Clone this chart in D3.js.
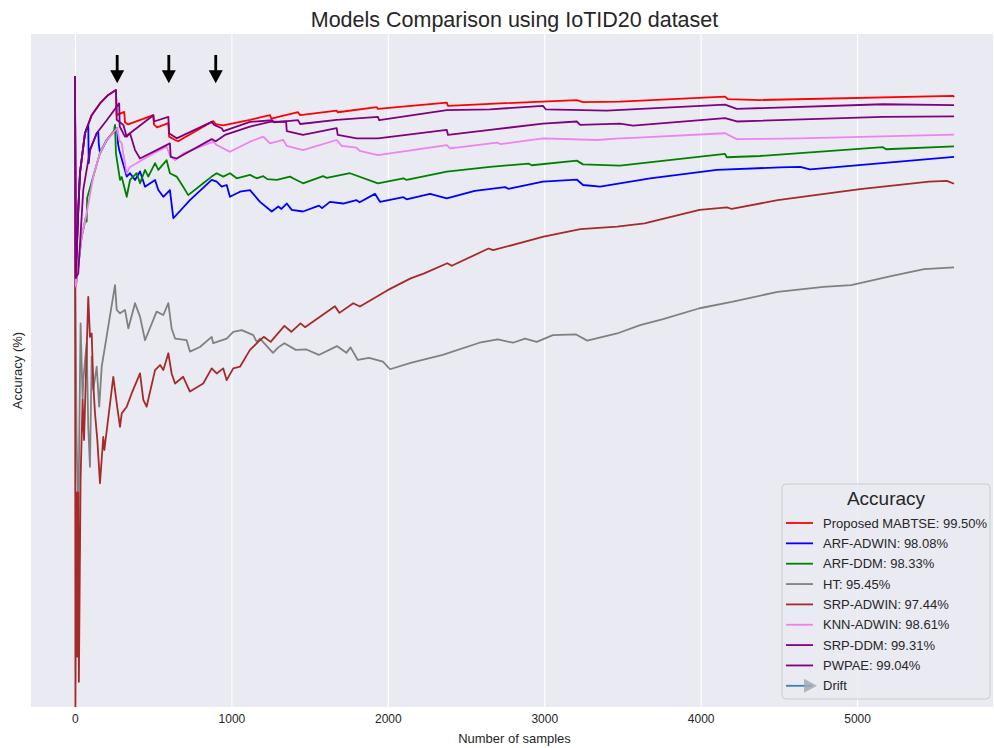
<!DOCTYPE html>
<html>
<head>
<meta charset="utf-8">
<script src="https://cdn.jsdelivr.net/npm/d3@7"></script>
<style>
  body { margin: 0; background: #ffffff; }
  text { font-family: "Liberation Sans", Arial, sans-serif; fill: #262626; }
</style>
</head>
<body>
<div id="chart"></div>
<script>
// data: [number of samples, accuracy %]
const proposed = [[0,100],[5,95.2],[21,96.8],[32,97.69],[64,98.64],[107,99.07],[160,99.35],[213,99.55],[262,99.67],[267,99.07],[315,99.15],[320,98.90],[340,98.85],[501,99.07],[505,98.85],[525,98.78],[597,98.88],[602,98.56],[640,98.48],[660,98.45],[692,98.52],[874,98.91],[884,98.93],[900,98.86],[948,98.83],[1119,98.96],[1247,99.07],[1255,98.99],[1426,99.14],[1440,99.07],[1673,99.18],[1680,99.14],[1929,99.26],[1937,99.22],[2377,99.37],[2385,99.29],[2654,99.34],[3208,99.43],[3248,99.38],[3484,99.39],[4156,99.51],[4175,99.45],[4380,99.43],[5614,99.53],[5620,99.50]];
const arfAdwin = [[0,100],[5,95.2],[21,96.8],[32,97.69],[64,98.64],[85,98.84],[88,97.93],[96,98.24],[139,98.64],[149,98.67],[152,98.40],[160,98.17],[203,98.48],[270,98.76],[275,98.40],[283,98.24],[331,97.61],[352,97.69],[384,97.53],[416,97.73],[448,97.37],[512,97.53],[533,97.29],[565,97.13],[607,97.29],[629,96.62],[735,97.05],[874,97.53],[906,97.49],[938,97.37],[970,97.41],[991,97.13],[1055,97.25],[1119,97.29],[1183,97.01],[1258,96.78],[1300,96.90],[1320,96.84],[1354,96.97],[1386,96.82],[1458,96.78],[1560,96.92],[1580,96.86],[1630,97.01],[1714,96.97],[1800,97.05],[1820,97.00],[1918,97.20],[1950,97.01],[2100,97.12],[2120,97.07],[2270,97.20],[2377,97.09],[2556,97.27],[2750,97.36],[2770,97.32],[2992,97.49],[3208,97.54],[3248,97.41],[3357,97.37],[3677,97.57],[4103,97.77],[4508,97.83],[4636,97.84],[4700,97.78],[5620,98.08]];
const arfDdm = [[0,100],[6,95.0],[43,96.18],[70,96.65],[75,96.54],[78,97.1],[117,97.61],[160,98.17],[203,98.48],[250,98.70],[256,98.84],[262,98.16],[288,97.53],[299,97.60],[331,97.13],[352,97.53],[395,97.69],[416,97.45],[448,97.77],[469,97.61],[512,97.93],[533,97.77],[586,98.00],[607,97.69],[650,97.61],[692,97.37],[724,97.17],[820,97.45],[874,97.61],[906,97.69],[948,97.61],[991,97.69],[1034,97.57],[1119,97.65],[1162,97.57],[1204,97.62],[1230,97.55],[1290,97.53],[1375,97.61],[1400,97.56],[1458,97.45],[1586,97.62],[1610,97.58],[1758,97.69],[1937,97.45],[2100,97.57],[2120,97.53],[2377,97.73],[2654,97.84],[2900,97.92],[2920,97.88],[3208,97.99],[3248,97.90],[3484,97.87],[4156,98.15],[4167,98.07],[4380,98.10],[5166,98.31],[5185,98.26],[5620,98.33]];
const ht = [[3,95.03],[10,91.5],[21,89.3],[36,94.12],[49,92.30],[53,92.77],[75,93.65],[85,91.66],[96,90.71],[107,93.33],[117,92.54],[139,93.09],[155,92.14],[171,93.09],[256,95.03],[267,94.44],[288,94.36],[320,94.44],[341,94.00],[384,94.60],[416,94.28],[448,93.72],[522,94.40],[565,94.32],[597,94.60],[618,94.00],[640,93.76],[714,93.72],[735,93.45],[799,93.56],[874,93.80],[884,93.65],[970,93.76],[1012,93.92],[1066,93.96],[1140,93.84],[1162,93.68],[1183,93.76],[1266,93.42],[1300,93.55],[1339,93.65],[1412,93.49],[1480,93.50],[1559,93.37],[1675,93.58],[1735,93.42],[1762,93.55],[1808,93.25],[1880,93.30],[1969,93.21],[2014,93.03],[2146,93.18],[2351,93.37],[2586,93.66],[2703,93.74],[2800,93.66],[2877,93.76],[2952,93.68],[3055,93.84],[3201,93.86],[3275,93.71],[3466,93.88],[3613,94.08],[3760,94.22],[3993,94.48],[4199,94.63],[4492,94.87],[4785,94.99],[4962,95.03],[5224,95.25],[5429,95.41],[5620,95.45]];
const srpAdwin = [[0,100],[3,85.0],[10,90.1],[14,86.2],[21,90.1],[25,85.6],[36,90.44],[49,92.30],[58,91.35],[75,93.49],[85,94.75],[96,93.80],[107,93.88],[117,92.69],[128,91.99],[143,91.35],[160,90.32],[181,91.42],[188,91.11],[245,92.85],[267,92.22],[288,91.66],[299,91.98],[331,92.14],[363,92.46],[416,92.93],[437,92.30],[458,92.14],[512,93.01],[544,93.13],[565,93.01],[597,93.41],[618,92.93],[640,92.69],[692,92.85],[735,92.50],[820,92.69],[874,93.05],[906,92.93],[948,93.05],[970,92.77],[1012,93.05],[1055,93.09],[1119,93.49],[1183,93.72],[1207,93.80],[1251,93.68],[1339,94.06],[1383,93.92],[1442,94.12],[1471,94.03],[1662,94.53],[1691,94.37],[1779,94.60],[1822,94.52],[1999,94.91],[2146,95.19],[2233,95.31],[2380,95.55],[2409,95.49],[2644,95.90],[2673,95.86],[2996,96.18],[3231,96.36],[3466,96.42],[3641,96.50],[3993,96.82],[4169,96.88],[4199,96.84],[4492,97.05],[5019,97.31],[5461,97.49],[5574,97.51],[5620,97.44]];
const knnAdwin = [[0,100],[6,95.0],[43,96.18],[75,96.74],[117,97.61],[160,98.17],[203,98.48],[270,98.76],[283,98.48],[299,98.40],[309,98.16],[331,97.69],[352,97.84],[501,98.16],[586,98.32],[607,98.12],[640,98.00],[692,98.16],[884,98.44],[906,98.36],[970,98.24],[991,98.20],[1119,98.44],[1204,98.56],[1247,98.40],[1332,98.48],[1354,98.34],[1458,98.24],[1673,98.48],[1705,98.34],[1800,98.30],[1820,98.22],[1937,98.12],[2377,98.36],[2398,98.28],[2700,98.42],[2720,98.38],[2992,98.52],[3336,98.48],[3484,98.52],[3568,98.53],[4156,98.64],[4231,98.50],[4636,98.52],[5620,98.61]];
const srpDdm = [[0,100],[5,95.2],[21,96.8],[32,97.69],[64,98.64],[107,99.07],[160,99.35],[213,99.55],[262,99.67],[267,98.96],[309,98.84],[331,98.56],[352,98.64],[501,99.07],[505,98.92],[597,99.03],[602,98.64],[650,98.52],[874,98.91],[890,98.84],[938,98.76],[950,98.69],[1119,98.91],[1260,98.95],[1275,98.90],[1426,98.95],[1440,98.86],[1673,98.96],[1937,99.03],[1945,98.95],[2377,99.19],[2654,99.21],[2992,99.29],[3010,99.21],[3400,99.18],[4156,99.32],[4231,99.22],[5166,99.33],[5620,99.31]];
const pwpae = [[0,100],[6,95.2],[21,95.31],[53,97.29],[96,98.24],[139,98.64],[203,98.95],[283,99.35],[286,98.80],[320,98.56],[352,98.64],[384,98.24],[416,98.04],[522,98.24],[607,98.40],[612,98.08],[650,98.04],[874,98.50],[900,98.45],[959,98.60],[1119,98.80],[1247,98.91],[1350,98.92],[1354,98.69],[1458,98.60],[1673,98.76],[1680,98.60],[1801,98.52],[1937,98.52],[2377,98.72],[2385,98.60],[2654,98.72],[2992,98.87],[3208,98.92],[3230,98.84],[3484,98.87],[3568,98.82],[4156,99.00],[4231,98.92],[5166,99.03],[5620,99.04]];

const modelNames = ["Proposed MABTSE", "ARF-ADWIN", "ARF-DDM", "HT", "SRP-ADWIN", "KNN-ADWIN", "SRP-DDM", "PWPAE"];
const finalAccuracy = [99.50, 98.08, 98.33, 95.45, 97.44, 98.61, 99.31, 99.04];
const modelColors = ["red", "blue", "green", "gray", "brown", "violet", "purple", "purple"];
const driftPoints = [270, 600, 900];
const xTicks = [0, 1000, 2000, 3000, 4000, 5000];

const seriesData = [proposed, arfAdwin, arfDdm, ht, srpAdwin, knnAdwin, srpDdm, pwpae];
const series = modelNames.map((name, i) => ({ name: name, acc: finalAccuracy[i], color: modelColors[i], values: seriesData[i] }));

const W = 994, H = 748;
const plot = { left: 31, right: 993, top: 34, bottom: 707 };

const svg = d3.select("#chart").append("svg")
  .attr("width", W)
  .attr("height", H);

// scales (x has matplotlib's 5% margin, y limits fixed 85..101)
const x = d3.scaleLinear().domain([-281, 5901]).range([plot.left, 998]);
const y = d3.scaleLinear().domain([85, 101]).range([plot.bottom, plot.top]);

// background
svg.append("rect")
  .attr("x", plot.left).attr("y", plot.top)
  .attr("width", plot.right - plot.left).attr("height", plot.bottom - plot.top)
  .attr("fill", "#eaeaf2");

svg.append("clipPath").attr("id", "clip")
  .append("rect")
  .attr("x", plot.left).attr("y", plot.top)
  .attr("width", plot.right - plot.left).attr("height", plot.bottom - plot.top);

// vertical grid + tick labels
const grid = svg.append("g")
  .attr("transform", `translate(0, ${plot.bottom})`)
  .call(d3.axisBottom(x).tickValues(xTicks).tickSize(-(plot.bottom - plot.top)).tickFormat(""));
grid.select(".domain").remove();
grid.selectAll("line").attr("stroke", "#ffffff").attr("stroke-width", 1.1);

const xAxis = svg.append("g")
  .attr("transform", `translate(0, ${plot.bottom})`)
  .call(d3.axisBottom(x).tickValues(xTicks).tickSize(0).tickPadding(7).tickFormat(d3.format("d")));
xAxis.select(".domain").remove();
xAxis.selectAll("text")
  .style("font-size", "12px")
  .style("font-family", "'Liberation Sans', Arial, sans-serif")
  .attr("fill", "#262626");

// lines
const line = d3.line()
  .x(d => x(d[0]))
  .y(d => y(d[1]));

svg.append("g")
  .attr("clip-path", "url(#clip)")
  .selectAll(".model-line")
  .data(series)
  .enter()
  .append("path")
  .attr("class", "model-line")
  .attr("fill", "none")
  .attr("stroke", d => d.color)
  .attr("stroke-width", 1.8)
  .attr("stroke-linejoin", "round")
  .attr("d", d => line(d.values));

// drift arrows
const arrowTop = y(100.5), arrowTip = y(99.83);
svg.selectAll(".drift")
  .data(driftPoints)
  .enter()
  .append("path")
  .attr("class", "drift")
  .attr("fill", "black")
  .attr("d", d => {
    const cx = x(d), hl = 13, hw = 7, sw = 1.4;
    return `M${cx - sw},${arrowTop} L${cx + sw},${arrowTop} L${cx + sw},${arrowTip - hl} L${cx + hw},${arrowTip - hl}
            L${cx},${arrowTip} L${cx - hw},${arrowTip - hl} L${cx - sw},${arrowTip - hl} Z`;
  });

// titles
svg.append("text")
  .attr("x", (plot.left + 998) / 2).attr("y", 27)
  .attr("text-anchor", "middle")
  .style("font-size", "21.5px")
  .text("Models Comparison using IoTID20 dataset");

svg.append("text")
  .attr("x", (plot.left + 998) / 2).attr("y", 743)
  .attr("text-anchor", "middle")
  .style("font-size", "13px")
  .text("Number of samples");

svg.append("text")
  .attr("transform", `translate(22, ${(plot.top + plot.bottom) / 2}) rotate(-90)`)
  .attr("text-anchor", "middle")
  .style("font-size", "13px")
  .text("Accuracy (%)");

// legend
const legend = svg.append("g").attr("transform", "translate(782, 484)");
legend.append("rect")
  .attr("width", 208).attr("height", 215)
  .attr("rx", 4)
  .attr("fill", "#eaeaf2").attr("fill-opacity", 0.8)
  .attr("stroke", "#cccccc").attr("stroke-width", 1);

legend.append("text")
  .attr("x", 104).attr("y", 21)
  .attr("text-anchor", "middle")
  .style("font-size", "19px")
  .text("Accuracy");

const rowY = i => 39 + i * 20.35;
const rows = legend.selectAll(".row")
  .data(series)
  .enter()
  .append("g")
  .attr("class", "row")
  .attr("transform", (d, i) => `translate(0, ${rowY(i)})`);
rows.append("line")
  .attr("x1", 4).attr("x2", 31)
  .attr("stroke", d => d.color).attr("stroke-width", 1.8);
rows.append("text")
  .attr("x", 41).attr("dy", "0.35em")
  .style("font-size", "13px")
  .text(d => `${d.name}: ${d.acc.toFixed(2)}%`);

// drift entry
const driftRow = legend.append("g").attr("transform", `translate(0, ${rowY(series.length)})`);
driftRow.append("line")
  .attr("x1", 4).attr("x2", 30)
  .attr("stroke", "#3b7dbf").attr("stroke-width", 1.8);
driftRow.append("path")
  .attr("d", "M22,-7 L35,0 L22,7 Z")
  .attr("fill", "#a3a9b4").attr("fill-opacity", 0.85);
driftRow.append("text")
  .attr("x", 41).attr("dy", "0.35em")
  .style("font-size", "13px")
  .text("Drift");
</script>
</body>
</html>
